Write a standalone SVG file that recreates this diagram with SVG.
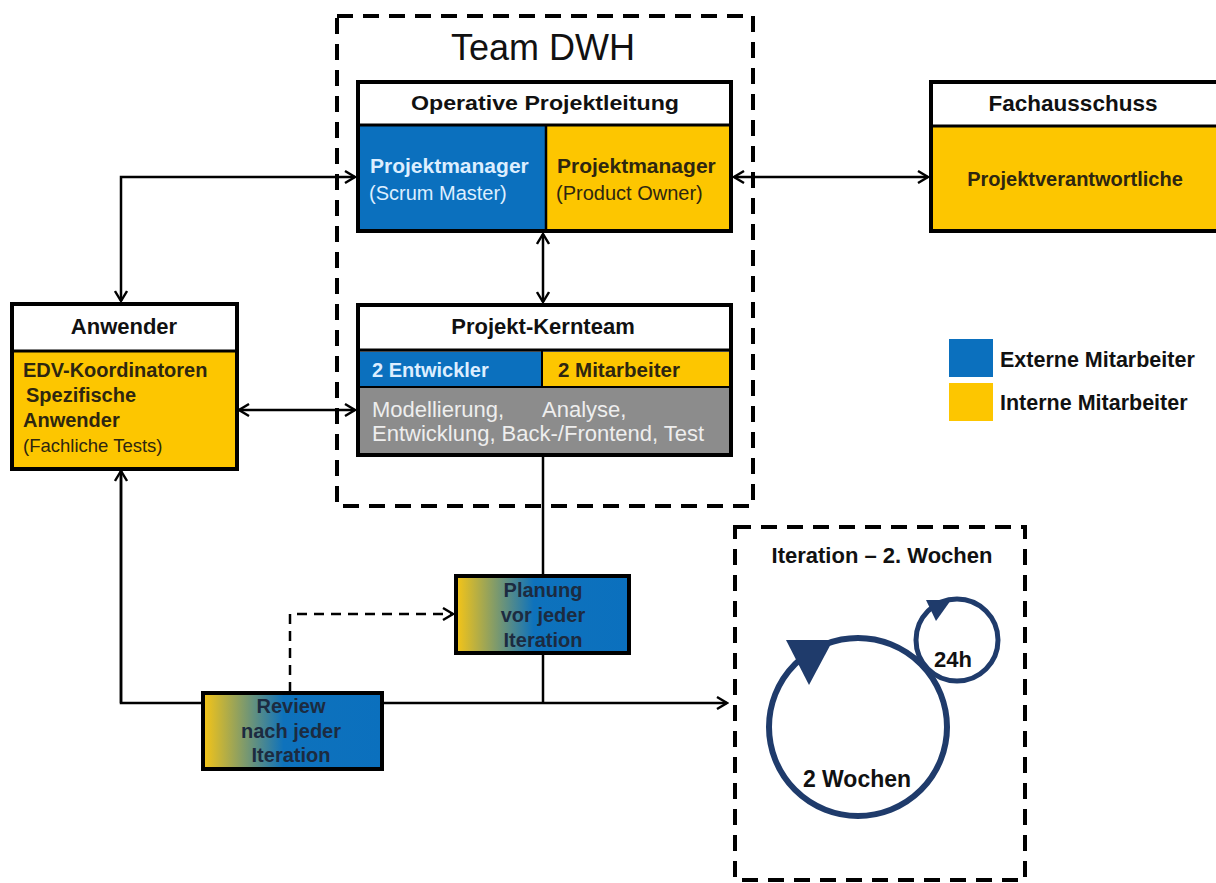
<svg xmlns="http://www.w3.org/2000/svg" width="1216" height="883" viewBox="0 0 1216 883">
<defs>
<marker id="arr" viewBox="0 0 14 14" refX="12" refY="7" markerWidth="14" markerHeight="14" orient="auto-start-reverse" markerUnits="userSpaceOnUse">
<path d="M2,1 L12,7 L2,13" fill="none" stroke="#000" stroke-width="2.4"/>
</marker>
<linearGradient id="grad" x1="0" y1="0" x2="1" y2="0">
<stop offset="0" stop-color="#F6C516"/>
<stop offset="0.45" stop-color="#0E72BC"/>
<stop offset="1" stop-color="#0B70BE"/>
</linearGradient>
<style>
.t{font-family:"Liberation Sans",Arial,sans-serif}
.b{font-family:"Liberation Sans",Arial,sans-serif;font-weight:bold}
.box{stroke:#000;stroke-width:4}
.conn{fill:none;stroke:#000;stroke-width:2.5}
.dash{fill:none;stroke:#000;stroke-width:4;stroke-dasharray:16 10}
.blue{fill:#0B70BE}
.yel{fill:#FDC600}
.lt{fill:#DDEEFF}
.dk{fill:#2E2610}
.nv{fill:#1C2B40}
.cyc{fill:none;stroke:#1F3B6B}
</style>
</defs>
<rect width="1216" height="883" fill="#fff"/>

<g id="team-dwh">
<rect class="dash" x="337" y="16" width="416" height="490"/>
<text class="t" x="543" y="60" font-size="36" text-anchor="middle" fill="#111">Team DWH</text>
</g>

<g id="iteration-box">
<rect class="dash" x="735" y="527" width="290" height="353"/>
<text class="b" x="882" y="563" font-size="22" text-anchor="middle" fill="#111">Iteration – 2. Wochen</text>
<circle class="cyc" cx="858" cy="727" r="89" stroke-width="6"/>
<polygon points="786,640 833,640 809,685" fill="#1F3B6B"/>
<circle class="cyc" cx="957" cy="640" r="41" stroke-width="5"/>
<polygon points="926,600 951,600 936,621" fill="#1F3B6B"/>
<text class="b" x="953" y="667" font-size="22" text-anchor="middle" fill="#111">24h</text>
<text class="b" x="857" y="787" font-size="23" text-anchor="middle" fill="#111">2 Wochen</text>
</g>

<g id="connectors">
<path class="conn" d="M121,301 V177 H355" marker-start="url(#arr)" marker-end="url(#arr)"/>
<path class="conn" d="M239,410 H355" marker-start="url(#arr)" marker-end="url(#arr)"/>
<path class="conn" d="M543,234 V302" marker-start="url(#arr)" marker-end="url(#arr)"/>
<path class="conn" d="M734,177 H928" marker-start="url(#arr)" marker-end="url(#arr)"/>
<path class="conn" d="M543,457 V575"/>
<path class="conn" d="M543,654 V703"/>
<path class="conn" d="M121,471 V703 H202"/>
<path class="conn" d="M121,703 V471" marker-end="url(#arr)"/>
<path class="conn" d="M383,703 H727" marker-end="url(#arr)"/>
<path class="conn" d="M290,692 V614 H453" stroke-dasharray="10 7" marker-end="url(#arr)"/>
</g>

<g id="operative-projektleitung">
<rect class="box" x="358" y="82" width="373" height="149" fill="#fff"/>
<rect class="blue" x="360" y="126" width="185" height="103"/>
<rect class="yel" x="547" y="126" width="182" height="103"/>
<line x1="358" y1="125" x2="731" y2="125" stroke="#000" stroke-width="3"/>
<line x1="546" y1="125" x2="546" y2="231" stroke="#000" stroke-width="2.5"/>
<text class="b" x="545" y="110" font-size="21" text-anchor="middle" textLength="268" lengthAdjust="spacingAndGlyphs" fill="#111">Operative Projektleitung</text>
<text class="b lt" x="370" y="173" font-size="21">Projektmanager</text>
<text class="t lt" x="369" y="200" font-size="20">(Scrum Master)</text>
<text class="b dk" x="557" y="173" font-size="21">Projektmanager</text>
<text class="t dk" x="556" y="200" font-size="20">(Product Owner)</text>
</g>

<g id="projekt-kernteam">
<rect class="box" x="358" y="305" width="373" height="150" fill="#8C8C8C"/>
<rect x="360" y="307" width="369" height="43" fill="#fff"/>
<line x1="358" y1="350" x2="731" y2="350" stroke="#000" stroke-width="3"/>
<rect class="blue" x="360" y="352" width="181" height="34"/>
<rect class="yel" x="543" y="352" width="186" height="34"/>
<line x1="358" y1="387" x2="731" y2="387" stroke="#000" stroke-width="2"/>
<line x1="542" y1="350" x2="542" y2="387" stroke="#000" stroke-width="2"/>
<text class="b" x="543" y="334" font-size="22" text-anchor="middle" fill="#111">Projekt-Kernteam</text>
<text class="b lt" x="372" y="377" font-size="20">2 Entwickler</text>
<text class="b dk" x="558" y="377" font-size="20.5">2 Mitarbeiter</text>
<text class="t" x="372" y="417" font-size="22" fill="#EEEEEE">Modellierung,</text>
<text class="t" x="542" y="417" font-size="22" fill="#EEEEEE">Analyse,</text>
<text class="t" x="372" y="441" font-size="22" fill="#EEEEEE">Entwicklung, Back-/Frontend, Test</text>
</g>

<g id="anwender">
<rect class="box" x="12" y="304" width="225" height="165" class2="" fill="#FDC600"/>
<rect x="14" y="306" width="221" height="44" fill="#fff"/>
<line x1="12" y1="351" x2="237" y2="351" stroke="#000" stroke-width="3"/>
<text class="b" x="124" y="334" font-size="22" text-anchor="middle" fill="#111">Anwender</text>
<text class="b dk" x="23" y="377" font-size="20">EDV-Koordinatoren</text>
<text class="b dk" x="26" y="402" font-size="20">Spezifische</text>
<text class="b dk" x="23" y="427" font-size="20">Anwender</text>
<text class="t dk" x="23" y="452" font-size="18.5">(Fachliche Tests)</text>
</g>

<g id="fachausschuss">
<rect class="box" x="931" y="82" width="300" height="149" fill="#FDC600"/>
<rect x="933" y="84" width="296" height="41" fill="#fff"/>
<line x1="931" y1="126" x2="1216" y2="126" stroke="#000" stroke-width="3"/>
<text class="b" x="1073" y="111" font-size="22.5" text-anchor="middle" fill="#111">Fachausschuss</text>
<text class="b dk" x="1075" y="186" font-size="20" text-anchor="middle">Projektverantwortliche</text>
</g>

<g id="legend">
<rect class="blue" x="949" y="339" width="44" height="38"/>
<rect class="yel" x="949" y="383" width="44" height="38"/>
<text class="b" x="1000" y="367" font-size="21.5" fill="#111">Externe Mitarbeiter</text>
<text class="b" x="1000" y="410" font-size="21.5" fill="#111">Interne Mitarbeiter</text>
</g>

<g id="planung">
<rect class="box" x="456" y="576" width="173" height="77" fill="url(#grad)"/>
<text class="b nv" x="543" y="597" font-size="20" text-anchor="middle">Planung</text>
<text class="b nv" x="543" y="622" font-size="20" text-anchor="middle">vor jeder</text>
<text class="b nv" x="543" y="647" font-size="20" text-anchor="middle">Iteration</text>
</g>

<g id="review">
<rect class="box" x="203" y="693" width="179" height="76" fill="url(#grad)"/>
<text class="b nv" x="291" y="713" font-size="20" text-anchor="middle">Review</text>
<text class="b nv" x="291" y="738" font-size="20" text-anchor="middle">nach jeder</text>
<text class="b nv" x="291" y="762" font-size="20" text-anchor="middle">Iteration</text>
</g>
</svg>
